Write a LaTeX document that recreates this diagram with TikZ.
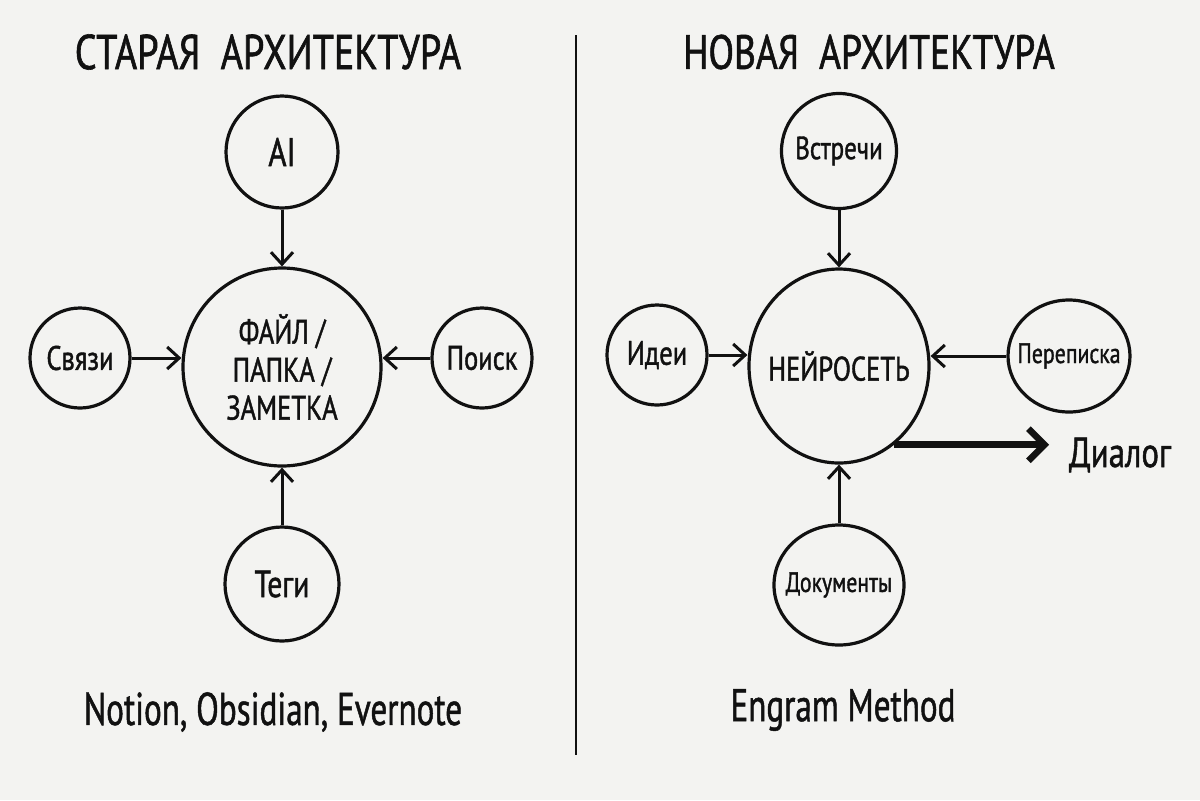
\documentclass[tikz,border=0pt]{standalone}
\usepackage{fontspec}
\setmainfont{PT Sans}[FakeStretch=0.78,FakeBold=1.2]
\newfontfamily\footfont{PT Sans}[FakeStretch=0.72,FakeBold=1.0]
\usetikzlibrary{arrows.meta,shapes.geometric}
\definecolor{paper}{HTML}{F3F3F1}
\definecolor{ink}{HTML}{111111}
\begin{document}
\begin{tikzpicture}[x=0.5pt,y=-0.5pt,
  every node/.style={text=ink},
  every label/.style={text=ink, inner sep=0pt},
  circ/.style={draw=ink, circle, line width=1.6pt, minimum size=#1, inner sep=0pt},
  oval/.style={draw=ink, ellipse, line width=1.6pt, inner sep=0pt},
  arr/.style={draw=ink, line width=1.5pt, -{Straight Barb[length=6pt,width=11pt,line width=1.5pt]}},
  bigarr/.style={draw=ink, line width=3.6pt, -{Straight Barb[length=8pt,width=16pt,line width=3.2pt]}},
  title/.style={font=\fontsize{24.5}{28}\selectfont},
  foot/.style={font=\footfont\fontsize{23}{26}\selectfont}
]
\fill[paper] (0,0) rectangle (1200,800);
\useasboundingbox (0,0) rectangle (1200,800);

% divider
\coordinate (dtop) at (576,35);
\coordinate (dbot) at (576,755);
\draw[ink, line width=1.1pt] (dtop) -- (dbot);

% titles
\node[title] (t1) at (268,52) {СТАРАЯ\ \ АРХИТЕКТУРА};
\node[title, font=\fontsize{24}{28}\selectfont] (t2) at (869,52) {НОВАЯ\ \ АРХИТЕКТУРА};

% left side
\node[circ=99pt, label={[align=center, font=\fontsize{17}{19}\selectfont]center:{ФАЙЛ /\\ПАПКА /\\ЗАМЕТКА}}] (main) at (282,367) {};
\node[circ=56pt, label={[font=\fontsize{20}{24}\selectfont]center:AI}] (ai) at (282,152) {};
\node[circ=50pt, label={[font=\fontsize{17}{20}\selectfont]center:Связи}] (svyazi) at (80,358) {};
\node[circ=50pt, label={[font=\fontsize{17}{20}\selectfont]center:Поиск}] (poisk) at (482,358) {};
\node[circ=57pt, label={[font=\fontsize{19}{22}\selectfont]center:Теги}] (tegi) at (282,584) {};

\draw[arr] (ai) -- (main);
\draw[arr] (tegi) -- (main);
\draw[arr] (svyazi.east) -- (main.west |- svyazi.east);
\draw[arr] (poisk.west) -- (main.east |- poisk.west);

\node[foot] (f1) at (273,712) {Notion, Obsidian, Evernote};

% right side
\node[oval, minimum width=90pt, minimum height=97pt, label={[font=\fontsize{17}{20}\selectfont]center:НЕЙРОСЕТЬ}] (neuro) at (839,366) {};
\node[circ=57.5pt, label={[font=\fontsize{16}{19}\selectfont]center:Встречи}] (vstr) at (839,151) {};
\node[circ=50pt, label={[font=\fontsize{17}{20}\selectfont]center:Идеи}] (idei) at (657,355) {};
\node[oval, minimum width=61pt, minimum height=56pt, label={[font=\fontsize{14}{16}\selectfont]center:Переписка}] (perep) at (1069,356) {};
\node[oval, minimum width=65pt, minimum height=60pt, label={[font=\fontsize{14}{16}\selectfont]center:Документы}] (docs) at (839,585) {};

\draw[arr] (vstr) -- (neuro);
\draw[arr] (docs) -- (neuro);
\draw[arr] (idei.east) -- (neuro.west |- idei.east);
\draw[arr] (perep.west) -- (neuro.east |- perep.west);

\node[font=\fontsize{21}{24}\selectfont] (dialog) at (1120,455) {Диалог};
\coordinate (dlgend) at (1049,445);
\draw[bigarr] (neuro.-55) -- (neuro.-55 -| dlgend);

\node[foot] (f2) at (843,710) {Engram Method};
\end{tikzpicture}
\end{document}
